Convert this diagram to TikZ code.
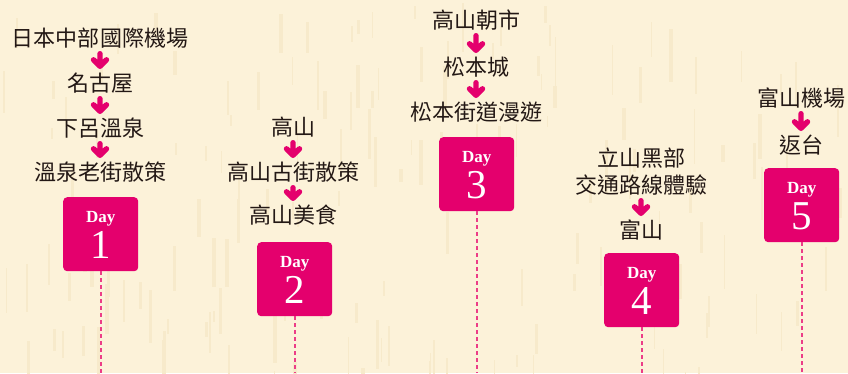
\documentclass[tikz,border=0pt]{standalone}
\usepackage{fontspec}
\setmainfont{Liberation Serif}
\newfontfamily\cjk{Noto Sans CJK TC}
\usetikzlibrary{calc}
\definecolor{bg}{HTML}{FCF2D9}
\definecolor{stripe}{HTML}{F7EACB}
\definecolor{dpink}{HTML}{E4006D}
\definecolor{lpink}{HTML}{EC3D87}
\definecolor{ink}{HTML}{231815}
\tikzset{
  x=1pt,y=-1pt,
  place/.style={font=\cjk\fontsize{22}{27}\selectfont, text=ink, inner sep=0pt, text height=19.4pt, text depth=2.6pt},
  daybox/.style={fill=dpink, rounded corners=4pt, minimum width=75pt, minimum height=74pt, inner sep=0pt, anchor=north west},
  daytxt/.style={text=white, font=\bfseries\fontsize{17}{17}\selectfont, inner sep=0pt, text height=11.2pt, text depth=0pt},
  daynum/.style={text=white, font=\fontsize{41}{41}\selectfont, inner sep=0pt},
  dnarrow/.style={draw=dpink, line width=5.4pt, line cap=round, line join=round,
    to path={($(\tikztostart.south)+(0,4.5)$) -- ($(\tikztotarget.north)+(0,-5.5)$) coordinate (tip)
      ++(-6.5,-6.5) -- (tip) -- ++(6.5,-6.5)}},
  trail/.style={draw=lpink, line width=1.8pt, dash pattern=on 4pt off 3pt},
}
\begin{document}
\begin{tikzpicture}
\useasboundingbox (0,0) rectangle (848,373);
\fill[bg] (0,0) rectangle (848,373);
\pgfmathsetseed{7}
\foreach \i in {1,...,160}{
  \pgfmathsetmacro\xx{rnd*848}
  \pgfmathsetmacro\yy{rnd*373}
  \pgfmathsetmacro\ww{1+rnd*3}
  \pgfmathsetmacro\hh{10+rnd*45}
  \fill[stripe] (\xx,\yy) rectangle ++(\ww,\hh);
}

% Day 1
\node[place] (a1) at (100,38) {日本中部國際機場};
\node[place] (a2) at (100,83) {名古屋};
\node[place] (a3) at (100,128) {下呂溫泉};
\node[place] (a4) at (100,172) {溫泉老街散策};
\draw[dnarrow] (a1) to (a2);
\draw[dnarrow] (a2) to (a3);
\draw[dnarrow] (a3) to (a4);
\node[daybox] (d1) at (63,197) {};
\node[daytxt] at ([yshift=-20pt]d1.north) {Day};
\node[daynum] at ([yshift=-48pt]d1.north) {1};
\coordinate (e1) at (d1.south |- 0,373);
\draw[trail] (d1.south) -- (e1);

% Day 2
\node[place] (b1) at (293,127) {高山};
\node[place] (b2) at (293,172) {高山古街散策};
\node[place] (b3) at (293,215) {高山美食};
\draw[dnarrow] (b1) to (b2);
\draw[dnarrow] (b2) to (b3);
\node[daybox] (d2) at (257,242) {};
\node[daytxt] at ([yshift=-20pt]d2.north) {Day};
\node[daynum] at ([yshift=-48pt]d2.north) {2};
\coordinate (e2) at (d2.south |- 0,373);
\draw[trail] (d2.south) -- (e2);

% Day 3
\node[place] (c1) at (476,20) {高山朝市};
\node[place] (c2) at (476,67) {松本城};
\node[place] (c3) at (476,112) {松本街道漫遊};
\draw[dnarrow] (c1) to (c2);
\draw[dnarrow] (c2) to (c3);
\node[daybox] (d3) at (439,137) {};
\node[daytxt] at ([yshift=-20pt]d3.north) {Day};
\node[daynum] at ([yshift=-48pt]d3.north) {3};
\coordinate (e3) at (d3.south |- 0,373);
\draw[trail] (d3.south) -- (e3);

% Day 4
\node[place] (f1) at (641,158) {立山黑部};
\node[place] (f2) at (641,185) {交通路線體驗};
\node[place] (f3) at (641,230) {富山};
\draw[dnarrow] (f2) to (f3);
\node[daybox] (d4) at (604,253) {};
\node[daytxt] at ([yshift=-20pt]d4.north) {Day};
\node[daynum] at ([yshift=-48pt]d4.north) {4};
\coordinate (e4) at (d4.south |- 0,373);
\draw[trail] (d4.south) -- (e4);

% Day 5
\node[place] (g1) at (801,98) {富山機場};
\node[place] (g2) at (801,145) {返台};
\draw[dnarrow] (g1) to (g2);
\node[daybox] (d5) at (764,168) {};
\node[daytxt] at ([yshift=-20pt]d5.north) {Day};
\node[daynum] at ([yshift=-48pt]d5.north) {5};
\coordinate (e5) at (d5.south |- 0,373);
\draw[trail] (d5.south) -- (e5);
\end{tikzpicture}
\end{document}
